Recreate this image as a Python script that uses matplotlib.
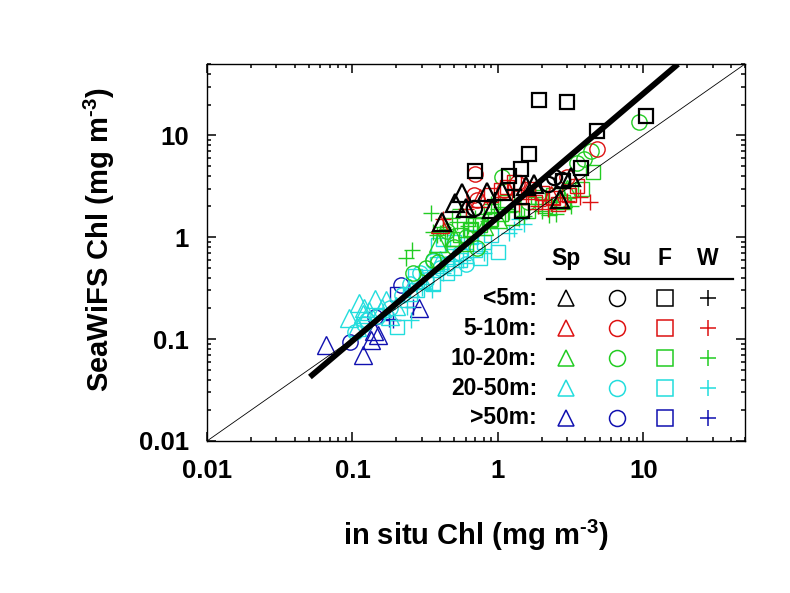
import matplotlib
matplotlib.use("Agg")
import matplotlib.pyplot as plt
from matplotlib.ticker import FixedLocator, FixedFormatter, LogLocator, NullFormatter
import numpy as np

plt.rcParams['font.family'] = ['Liberation Sans', 'DejaVu Sans']
plt.rcParams['font.weight'] = 'bold'
plt.rcParams['mathtext.fontset'] = 'custom'
plt.rcParams['mathtext.rm'] = 'Liberation Sans:bold'
plt.rcParams['mathtext.bf'] = 'Liberation Sans:bold'
plt.rcParams['mathtext.default'] = 'bf'

# ---------------- data ----------------
seasons = ["Sp", "Su", "F", "W"]
depths = ["<5m:", "5-10m:", "10-20m:", "20-50m:", ">50m:"]
depth_colors = ["#000000", "#dd1111", "#22cc22", "#22dddd", "#1010b0"]
season_markers = ["^", "o", "s", "+"]

# <5m
lt5_sp_x = [0.41, 0.505, 0.564, 0.608, 0.845, 0.906, 1.06, 1.55, 1.76, 2.68, 3.16]
lt5_sp_y = [1.42, 2.16, 2.71, 1.95, 2.80, 1.89, 2.86, 3.18, 3.32, 2.37, 3.89]
lt5_su_x = [0.69, 2.45, 2.75, 2.2]
lt5_su_y = [1.95, 3.9, 3.6, 3.3]
lt5_f_x = [1.91, 3.0, 10.4, 4.8, 1.64, 1.45, 0.70, 1.19, 3.72, 2.80, 1.47]
lt5_f_y = [22.1, 21.1, 15.5, 11.0, 6.55, 4.63, 4.46, 3.98, 4.8, 3.56, 1.80]
lt5_w_x = [1.3, 0.95]
lt5_w_y = [2.9, 2.3]

# 5-10m
m5_sp_x = [0.40, 0.75, 1.6, 2.3]
m5_sp_y = [1.35, 2.4, 2.9, 2.6]
m5_su_x = [0.70, 4.8, 0.68, 0.72, 1.35, 3.0, 1.1]
m5_su_y = [4.2, 7.3, 2.6, 2.3, 3.4, 3.9, 2.9]
m5_f_x = [1.3, 1.15, 1.6, 1.05, 2.0, 2.4, 3.1, 3.5, 1.8, 2.6, 0.9, 1.4]
m5_f_y = [3.5, 3.1, 3.0, 2.9, 2.7, 2.4, 2.6, 3.2, 2.2, 2.1, 2.6, 2.5]
m5_w_x = [0.42, 3.0, 3.65, 4.3, 1.4, 1.9, 0.6, 2.2]
m5_w_y = [1.5, 2.25, 2.5, 2.2, 2.1, 2.0, 1.9, 1.9]

# 10-20m
m10_sp_x = [0.39, 0.5, 1.0, 2.8, 3.0, 0.8]
m10_sp_y = [0.87, 1.0, 1.5, 2.4, 3.0, 1.3]
m10_su_x = [9.3, 3.9, 3.5, 1.06, 0.72, 0.36, 0.32, 0.5, 0.6, 1.6, 0.26, 0.39, 4.4, 0.45]
m10_su_y = [13.4, 5.9, 5.3, 3.9, 0.78, 0.6, 0.5, 0.8, 1.0, 2.2, 0.45, 0.57, 7.0, 1.15]
m10_f_x = [4.5, 3.8, 2.8, 2.1, 1.6, 1.25, 0.9, 0.65, 0.55, 0.48, 0.7, 1.05, 3.2, 0.6, 2.4, 0.64,
           0.75, 0.88, 1.15, 1.9]
m10_f_y = [4.4, 3.0, 2.2, 2.0, 1.8, 1.55, 1.5, 1.2, 1.05, 0.95, 1.35, 1.7, 2.9, 0.85, 2.6, 1.17,
           1.32, 1.48, 2.2, 2.5]
m10_w_x = [0.255, 0.235, 0.349, 0.358, 0.40, 0.45, 0.52, 0.6, 0.7, 0.8, 1.0, 1.2, 1.5, 2.0, 2.5, 3.2,
           2.2, 0.9, 0.55, 1.8, 2.25, 0.42, 0.38, 0.48, 0.62, 0.85]
m10_w_y = [0.746, 0.62, 1.71, 1.13, 1.1, 1.2, 1.4, 1.6, 1.55, 1.7, 1.9, 1.75, 1.6, 1.8, 1.7, 2.0,
           2.3, 2.1, 1.9, 2.5, 1.65, 1.25, 1.05, 1.55, 1.3, 1.45]

# 20-50m
m20_sp_x = [0.111, 0.143, 0.119, 0.171, 0.107, 0.13, 0.16, 0.2, 0.18, 0.25, 0.3, 0.4, 0.095, 0.12]
m20_sp_y = [0.224, 0.25, 0.178, 0.24, 0.131, 0.19, 0.2, 0.21, 0.17, 0.32, 0.38, 0.6, 0.16, 0.2]
m20_su_x = [0.104, 0.125, 0.247, 0.29, 0.358, 0.4, 0.45, 0.15, 0.22, 0.55, 0.6, 0.32, 0.12, 0.18]
m20_su_y = [0.118, 0.153, 0.35, 0.44, 0.59, 0.5, 0.55, 0.17, 0.27, 0.7, 0.55, 0.38, 0.14, 0.2]
m20_f_x = [0.202, 0.268, 0.32, 0.358, 0.39, 1.0, 0.45, 0.5, 0.55, 0.6, 0.7, 0.8, 0.65, 0.5, 0.9,
           0.25, 0.28, 0.42, 0.75, 0.38]
m20_f_y = [0.131, 0.42, 0.41, 0.35, 0.83, 0.72, 0.45, 0.5, 0.6, 0.65, 0.75, 0.9, 1.0, 0.9, 1.05,
           0.28, 0.3, 0.97, 0.62, 0.55]
m20_w_x = [0.254, 0.236, 0.3, 0.42, 0.5, 0.58, 1.3, 1.5, 1.2, 0.8, 0.35, 1.4]
m20_w_y = [0.153, 0.207, 0.32, 0.45, 0.55, 0.6, 1.2, 1.35, 1.1, 0.7, 0.3, 1.5]

# >50m
m50_sp_x = [0.0656, 0.1185, 0.135, 0.150, 0.287, 0.14]
m50_sp_y = [0.087, 0.0695, 0.0975, 0.109, 0.2, 0.12]
m50_su_x = [0.096, 0.143, 0.215]
m50_su_y = [0.094, 0.165, 0.338]
m50_f_x = [0.203]
m50_f_y = [0.28]
m50_w_x = [0.179, 0.259, 0.19]
m50_w_y = [0.159, 0.207, 0.153]

# regression line  y = a * x^b  and 1:1 line
fit_a = 1.57
fit_b = 1.213
fit_x = [0.051, 17.3]
one_to_one = [0.01, 50]

axis_min, axis_max = 0.01, 50
tick_vals = [0.01, 0.1, 1, 10]
tick_labels = ["0.01", "0.1", "1", "10"]

series = [
    [(lt5_sp_x, lt5_sp_y), (lt5_su_x, lt5_su_y), (lt5_f_x, lt5_f_y), (lt5_w_x, lt5_w_y)],
    [(m5_sp_x, m5_sp_y), (m5_su_x, m5_su_y), (m5_f_x, m5_f_y), (m5_w_x, m5_w_y)],
    [(m10_sp_x, m10_sp_y), (m10_su_x, m10_su_y), (m10_f_x, m10_f_y), (m10_w_x, m10_w_y)],
    [(m20_sp_x, m20_sp_y), (m20_su_x, m20_su_y), (m20_f_x, m20_f_y), (m20_w_x, m20_w_y)],
    [(m50_sp_x, m50_sp_y), (m50_su_x, m50_su_y), (m50_f_x, m50_f_y), (m50_w_x, m50_w_y)],
]

# ---------------- figure ----------------
fig = plt.figure(figsize=(7.9, 5.93), dpi=100)
ax = fig.add_axes([207 / 790, 1 - 441 / 593, 538 / 790, 377 / 593])
ax.set_xscale('log')
ax.set_yscale('log')
ax.set_xlim(axis_min, axis_max)
ax.set_ylim(axis_min, axis_max)

marker_sizes = {"^": 12.5, "o": 11, "s": 10.5, "+": 11}

# draw deepest first so that shallow (black) ends on top
for di in range(len(depths) - 1, -1, -1):
    col = depth_colors[di]
    mew = 1.6 if di == 0 else 1.0
    for si, mk in enumerate(season_markers):
        xs, ys = series[di][si]
        ax.plot(xs, ys, linestyle='none', marker=mk, markersize=marker_sizes[mk],
                markerfacecolor='none', markeredgecolor=col, markeredgewidth=mew,
                zorder=2 + (4 - di) * 0.1)

ax.plot(one_to_one, one_to_one, color='black', lw=0.6, zorder=3)
fx = np.array(fit_x)
ax.plot(fx, fit_a * fx ** fit_b, color='black', lw=4.2, solid_capstyle='butt', zorder=3.5)

# ticks
for axis in (ax.xaxis, ax.yaxis):
    axis.set_major_locator(FixedLocator(tick_vals))
    axis.set_major_formatter(FixedFormatter(tick_labels))
    axis.set_minor_locator(LogLocator(base=10, subs=np.arange(2, 10)))
    axis.set_minor_formatter(NullFormatter())
ax.tick_params(which='both', direction='in', top=True, right=True, width=1.1)
ax.tick_params(which='major', length=6.5, labelsize=18.5, pad=13)
ax.tick_params(which='minor', length=3)
for lab in ax.get_xticklabels() + ax.get_yticklabels():
    lab.set_fontweight('bold')
for sp in ax.spines.values():
    sp.set_linewidth(1.0)

# axis labels
fig.text(476 / 790, 1 - 535 / 593, r'in situ Chl (mg m$^{\text{-3}}$)', ha='center', va='center',
         fontsize=21, fontweight='bold')
fig.text(99 / 790, 1 - 240 / 593, r'SeaWiFS Chl (mg m$^{\text{-3}}$)', ha='center', va='center',
         fontsize=21, fontweight='bold', rotation=90)

# custom legend table
def fx_(px):
    return (px - 207) / 538.0

def fy_(py):
    return (441 - py) / 377.0

col_px = [566, 617, 665, 708]
row_py = [298, 328, 358, 388, 418]
for ci, s in enumerate(seasons):
    ax.text(fx_(col_px[ci]), fy_(258), s, transform=ax.transAxes, ha='center', va='center',
            fontsize=16.5, fontweight='bold')
ax.plot([fx_(547), fx_(733)], [fy_(279), fy_(279)], transform=ax.transAxes, color='black', lw=1.6,
        clip_on=False)
legend_sizes = {"^": 12, "o": 11.5, "s": 11.2, "+": 11}
for ri, d in enumerate(depths):
    ax.text(fx_(537), fy_(row_py[ri]), d, transform=ax.transAxes, ha='right', va='center',
            fontsize=16.5, fontweight='bold')
    for ci, mk in enumerate(season_markers):
        ax.plot([fx_(col_px[ci])], [fy_(row_py[ri])], transform=ax.transAxes, linestyle='none',
                marker=mk, markersize=legend_sizes[mk], markerfacecolor='none',
                markeredgecolor=depth_colors[ri], markeredgewidth=1.1, zorder=5)

fig.savefig("out.png", dpi=100)
